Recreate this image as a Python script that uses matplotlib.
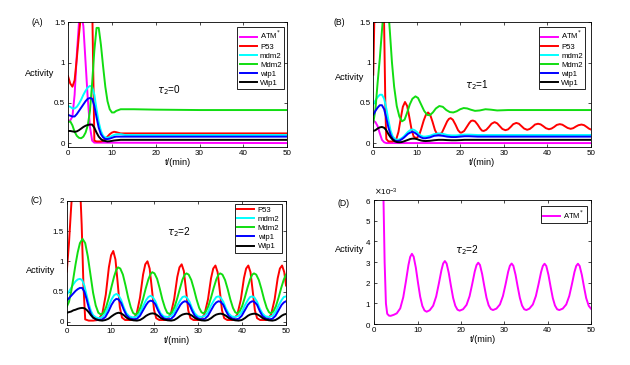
import numpy as np
import matplotlib
matplotlib.use("Agg")
import matplotlib.pyplot as plt
from matplotlib.ticker import ScalarFormatter, FormatStrFormatter

plt.rcParams['font.family'] = ['Liberation Sans', 'DejaVu Sans']

C_ATM = "#ff00ff"
C_P53 = "#ff0000"
C_MDM2 = "#00ffff"
C_MDM2P = "#11dd11"
C_WIP1 = "#0000ff"
C_WIP1P = "#000000"

# ---------------- panel A, tau2 = 0 ----------------
a_t = [0, 0.5, 1, 1.5, 2, 2.5, 3, 3.5, 4, 4.5, 5, 5.5, 6, 6.5, 7, 7.5, 8, 8.5, 9, 9.5,
       10, 10.5, 11, 12, 13, 15, 20, 30, 40, 50]
a_atm_t = [0, 0.5, 1, 1.5, 2, 2.5, 3, 3.5, 4, 4.5, 5, 5.5, 6, 50]
a_atm = [0.28, 0.28, 0.33, 0.6, 1.1, 1.5, 1.62, 1.45, 1.0, 0.55, 0.2, 0.03, 0.005, 0.0]
a_p53 = [0.83, 0.74, 0.70, 0.78, 1.05, 1.35, 1.62, 1.9, 2.1, 2.2, 2.1, 1.75, 0.03, 0.02, 0.02,
         0.02, 0.03, 0.05, 0.08, 0.11, 0.13, 0.14, 0.135, 0.12, 0.12, 0.12, 0.12, 0.12, 0.12, 0.12]
a_mdm2 = [0.46, 0.45, 0.43, 0.43, 0.45, 0.49, 0.54, 0.6, 0.65, 0.69, 0.71, 0.70, 0.6, 0.42, 0.26,
          0.15, 0.09, 0.07, 0.065, 0.075, 0.09, 0.1, 0.11, 0.11, 0.1, 0.1, 0.1, 0.1, 0.1, 0.1]
a_Mdm2 = [0.26, 0.27, 0.22, 0.14, 0.09, 0.065, 0.06, 0.08, 0.13, 0.22, 0.4, 0.75, 1.15, 1.43, 1.43,
          1.22, 0.95, 0.7, 0.52, 0.42, 0.38, 0.38, 0.4, 0.42, 0.42, 0.42, 0.415, 0.41, 0.41, 0.41]
a_wip1 = [0.35, 0.34, 0.33, 0.33, 0.36, 0.4, 0.44, 0.48, 0.52, 0.55, 0.56, 0.55, 0.46, 0.32, 0.19,
          0.11, 0.07, 0.05, 0.05, 0.055, 0.065, 0.075, 0.08, 0.08, 0.08, 0.08, 0.08, 0.08, 0.08, 0.08]
a_Wip1 = [0.15, 0.15, 0.145, 0.14, 0.145, 0.16, 0.18, 0.2, 0.215, 0.225, 0.23, 0.23, 0.19, 0.13, 0.08,
          0.05, 0.03, 0.025, 0.02, 0.022, 0.027, 0.032, 0.035, 0.04, 0.04, 0.04, 0.04, 0.04, 0.04, 0.04]

# ---------------- panel B, tau2 = 1 ----------------
b_t = [0, 0.5, 1, 1.5, 2, 2.5, 3, 3.5, 4, 4.5, 5, 5.5, 6, 6.5, 7, 7.5, 8, 8.5, 9, 9.5, 10,
       10.5, 11, 11.5, 12, 13, 14, 15, 16, 17, 18, 19, 20, 21, 22, 24, 50]
b_atm_t = [0, 0.5, 1, 1.5, 2, 2.5, 3, 50]
b_atm = [0.28, 0.26, 0.21, 0.12, 0.04, 0.01, 0.0, 0.0]
b_p53_t = [0, 0.3, 2.3, 2.5, 2.8, 3.0, 3.5, 4.5,
           5.3, 5.8, 6.3, 6.8, 7.3, 7.8, 8.3, 8.8, 9.3, 9.9,
           10.5, 11, 11.6, 12.1, 12.6, 13.1, 13.6, 14.2, 14.7, 15.2,
           15.8, 16.4, 17, 17.4, 17.8, 18.3, 18.9, 19.5, 20, 20.3,
           20.9, 21.5, 22.1, 22.5, 22.9, 23.4, 24, 24.6, 25, 25.4,
           26, 26.6, 27.2, 27.9, 28.5, 29.1, 29.7, 30.4,
           31, 31.6, 32.2, 32.9, 33.5, 34.1, 34.7, 35.4,
           36, 36.6, 37.2, 37.9, 38.5, 39.1, 39.7, 40.4,
           41, 41.6, 42.2, 42.9, 43.5, 44.1, 44.7, 45.4,
           46, 46.6, 47.2, 47.9, 48.5, 49.1, 49.6, 50]
b_p53 = [0.85, 1.7, 1.9, 1.45, 0.4, 0.05, 0.02, 0.02,
         0.05, 0.14, 0.3, 0.45, 0.51, 0.46, 0.32, 0.17, 0.08, 0.06,
         0.09, 0.17, 0.28, 0.35, 0.38, 0.35, 0.27, 0.16, 0.11, 0.1,
         0.13, 0.2, 0.27, 0.3, 0.31, 0.29, 0.23, 0.16, 0.13, 0.13,
         0.15, 0.2, 0.25, 0.275, 0.28, 0.27, 0.23, 0.18, 0.155, 0.15,
         0.165, 0.2, 0.24, 0.26, 0.245, 0.21, 0.175, 0.16,
         0.17, 0.2, 0.235, 0.25, 0.24, 0.21, 0.18, 0.165,
         0.175, 0.2, 0.23, 0.24, 0.232, 0.21, 0.185, 0.172,
         0.18, 0.2, 0.225, 0.235, 0.228, 0.208, 0.188, 0.177,
         0.185, 0.205, 0.222, 0.23, 0.222, 0.2, 0.18, 0.17]
b_Mdm2_t = [0, 0.5, 1, 1.5, 2, 2.3, 3.4, 3.8, 4.3, 4.8, 5.4, 6, 6.6, 7.2, 7.8, 8.4, 9, 9.7,
            10.3, 11, 11.7, 12.4, 13, 13.7, 14.4, 15.2, 16, 16.8, 17.6, 18.4,
            19.2, 20, 20.8, 21.6, 22.4, 23.4, 24.5, 25.8, 27, 28.5, 31, 50]
b_Mdm2 = [0.25, 0.42, 0.75, 1.05, 1.4, 1.6, 1.7, 1.4, 1.0, 0.7, 0.46, 0.33, 0.27, 0.29, 0.38, 0.48, 0.55, 0.58,
          0.56, 0.48, 0.4, 0.35, 0.345, 0.38, 0.43, 0.46, 0.45, 0.41, 0.385, 0.38,
          0.395, 0.42, 0.435, 0.43, 0.415, 0.4, 0.405, 0.42, 0.415, 0.405, 0.41, 0.41]
b_mdm2 = [0.48, 0.53, 0.57, 0.6, 0.6, 0.55, 0.43, 0.28, 0.15, 0.08, 0.05, 0.04, 0.045, 0.06, 0.08,
          0.11, 0.14, 0.16, 0.17, 0.16, 0.14, 0.11, 0.09, 0.08, 0.08, 0.09, 0.11, 0.12, 0.115, 0.1,
          0.095, 0.095, 0.1, 0.105, 0.105, 0.1, 0.1]
b_wip1 = [0.35, 0.4, 0.44, 0.47, 0.47, 0.42, 0.31, 0.19, 0.1, 0.05, 0.03, 0.025, 0.03, 0.045, 0.065,
          0.09, 0.115, 0.13, 0.14, 0.13, 0.11, 0.085, 0.07, 0.06, 0.06, 0.07, 0.09, 0.095, 0.09, 0.08,
          0.075, 0.075, 0.08, 0.085, 0.085, 0.08, 0.08]
b_Wip1 = [0.15, 0.16, 0.18, 0.195, 0.2, 0.19, 0.16, 0.11, 0.07, 0.04, 0.02, 0.012, 0.01, 0.012, 0.02,
          0.03, 0.04, 0.05, 0.055, 0.055, 0.05, 0.04, 0.032, 0.027, 0.025, 0.028, 0.035, 0.04, 0.04, 0.037,
          0.035, 0.035, 0.037, 0.04, 0.04, 0.04, 0.04]

# ---------------- panel C, tau2 = 2 ----------------
c_p53_t = [0, 0.5, 1.0, 1.2, 3.0, 3.4, 3.8, 4.2, 5, 6,
           7.1, 8.1, 8.9, 9.6, 10.1, 10.6, 11.1, 11.6, 12.1, 12.6, 13.3,
           14.9, 15.9, 16.7, 17.4, 17.9, 18.4, 18.9, 19.4, 19.9, 20.4, 21.1,
           22.7, 23.7, 24.5, 25.2, 25.7, 26.2, 26.7, 27.2, 27.7, 28.2, 28.9,
           30.4, 31.4, 32.2, 32.9, 33.4, 33.9, 34.4, 34.9, 35.4, 35.9, 36.6,
           37.9, 38.9, 39.7, 40.4, 40.9, 41.4, 41.9, 42.4, 42.9, 43.4, 44.1,
           45.6, 46.6, 47.4, 48.1, 48.6, 49.1, 49.6, 50]
c_p53 = [0.83, 1.3, 1.9, 2.1, 2.3, 1.6, 0.6, 0.04, 0.02, 0.02,
         0.03, 0.13, 0.45, 0.9, 1.1, 1.17, 1.03, 0.65, 0.24, 0.07, 0.03,
         0.03, 0.12, 0.4, 0.78, 0.95, 1.0, 0.88, 0.55, 0.2, 0.06, 0.03,
         0.03, 0.12, 0.38, 0.74, 0.9, 0.95, 0.84, 0.52, 0.19, 0.06, 0.03,
         0.03, 0.12, 0.37, 0.72, 0.88, 0.93, 0.82, 0.51, 0.19, 0.06, 0.03,
         0.03, 0.12, 0.37, 0.72, 0.88, 0.93, 0.82, 0.51, 0.19, 0.06, 0.03,
         0.03, 0.12, 0.37, 0.72, 0.88, 0.93, 0.82, 0.6]
c_Mdm2_t = [0, 0.5, 1, 1.5, 2, 2.5, 3,
            3.6, 4.2, 4.8, 5.4, 6, 6.6, 7.2, 7.8,
            8.4, 9, 9.6, 10.2, 10.8, 11.3, 11.7,
            12.2, 12.8, 13.4, 14, 14.6, 15.1, 15.6,
            16.2, 16.8, 17.4, 18, 18.6, 19.1, 19.5,
            20, 20.6, 21.2, 21.8, 22.4, 22.9, 23.4,
            24, 24.6, 25.2, 25.8, 26.4, 26.9, 27.3,
            27.8, 28.4, 29, 29.6, 30.2, 30.7, 31.1,
            31.7, 32.3, 32.9, 33.5, 34.1, 34.6, 35,
            35.5, 36.1, 36.7, 37.3, 37.9, 38.4, 38.8,
            39.4, 40, 40.6, 41.2, 41.8, 42.3, 42.7,
            43.2, 43.8, 44.4, 45, 45.6, 46.1, 46.5,
            47.1, 47.7, 48.3, 48.9, 49.5, 50]
c_Mdm2 = [0.25, 0.33, 0.5, 0.72, 0.95, 1.15, 1.3,
          1.37, 1.3, 1.08, 0.78, 0.48, 0.27, 0.15, 0.12,
          0.15, 0.25, 0.4, 0.58, 0.75, 0.86, 0.9,
          0.88, 0.78, 0.6, 0.4, 0.24, 0.15, 0.12,
          0.15, 0.24, 0.38, 0.55, 0.7, 0.79, 0.82,
          0.8, 0.71, 0.55, 0.37, 0.23, 0.15, 0.13,
          0.16, 0.25, 0.39, 0.55, 0.7, 0.78, 0.8,
          0.78, 0.69, 0.54, 0.37, 0.23, 0.16, 0.14,
          0.17, 0.26, 0.4, 0.56, 0.7, 0.78, 0.8,
          0.78, 0.69, 0.54, 0.37, 0.23, 0.16, 0.14,
          0.17, 0.26, 0.4, 0.56, 0.7, 0.78, 0.8,
          0.78, 0.69, 0.54, 0.37, 0.23, 0.16, 0.14,
          0.17, 0.26, 0.4, 0.56, 0.7, 0.78]
c_t = [0, 0.5, 1, 1.5, 2, 2.5, 3, 3.5, 4, 4.5, 5, 5.5, 6,
       6.7, 7.4, 8.1, 8.8, 9.5, 10.2, 10.8, 11.3,
       11.8, 12.4, 13, 13.6, 14.3, 15.2,
       16, 16.7, 17.4, 18.1, 18.6, 19.1,
       19.6, 20.2, 20.8, 21.4, 22.1, 23,
       23.8, 24.5, 25.2, 25.9, 26.4, 26.9,
       27.4, 28, 28.6, 29.2, 29.9, 30.7,
       31.5, 32.2, 32.9, 33.6, 34.1, 34.6,
       35.1, 35.7, 36.3, 36.9, 37.6, 38.4,
       39.2, 39.9, 40.6, 41.3, 41.8, 42.3,
       42.8, 43.4, 44, 44.6, 45.3, 46.1,
       46.9, 47.6, 48.3, 49, 49.5, 50]
c_mdm2 = [0.45, 0.5, 0.56, 0.62, 0.67, 0.7, 0.71, 0.69, 0.6, 0.45, 0.3, 0.18, 0.11,
          0.07, 0.06, 0.08, 0.14, 0.25, 0.37, 0.44, 0.46,
          0.44, 0.36, 0.24, 0.14, 0.09, 0.07,
          0.09, 0.15, 0.26, 0.36, 0.41, 0.43,
          0.41, 0.34, 0.23, 0.14, 0.09, 0.08,
          0.1, 0.16, 0.27, 0.36, 0.41, 0.42,
          0.4, 0.33, 0.22, 0.14, 0.09, 0.08,
          0.1, 0.16, 0.27, 0.36, 0.41, 0.42,
          0.4, 0.33, 0.22, 0.14, 0.09, 0.08,
          0.1, 0.16, 0.27, 0.36, 0.41, 0.42,
          0.4, 0.33, 0.22, 0.14, 0.09, 0.08,
          0.1, 0.16, 0.27, 0.36, 0.41, 0.42]
c_wip1 = [0.35, 0.39, 0.43, 0.47, 0.51, 0.54, 0.56, 0.56, 0.5, 0.38, 0.24, 0.13, 0.07,
          0.04, 0.03, 0.04, 0.08, 0.17, 0.28, 0.35, 0.38,
          0.37, 0.31, 0.2, 0.11, 0.06, 0.04,
          0.05, 0.1, 0.19, 0.28, 0.33, 0.35,
          0.34, 0.29, 0.19, 0.11, 0.06, 0.04,
          0.05, 0.1, 0.19, 0.28, 0.32, 0.34,
          0.33, 0.28, 0.18, 0.1, 0.06, 0.04,
          0.05, 0.1, 0.19, 0.28, 0.32, 0.34,
          0.33, 0.28, 0.18, 0.1, 0.06, 0.04,
          0.05, 0.1, 0.19, 0.28, 0.32, 0.34,
          0.33, 0.28, 0.18, 0.1, 0.06, 0.04,
          0.05, 0.1, 0.19, 0.28, 0.32, 0.34]
c_Wip1 = [0.15, 0.16, 0.17, 0.19, 0.2, 0.215, 0.225, 0.23, 0.225, 0.2, 0.16, 0.11, 0.07,
          0.04, 0.025, 0.02, 0.03, 0.05, 0.09, 0.12, 0.14,
          0.15, 0.14, 0.11, 0.07, 0.04, 0.025,
          0.02, 0.03, 0.06, 0.1, 0.12, 0.135,
          0.14, 0.13, 0.1, 0.065, 0.04, 0.025,
          0.02, 0.03, 0.06, 0.1, 0.12, 0.13,
          0.135, 0.125, 0.1, 0.065, 0.04, 0.025,
          0.02, 0.03, 0.06, 0.1, 0.12, 0.13,
          0.135, 0.125, 0.1, 0.065, 0.04, 0.025,
          0.02, 0.03, 0.06, 0.1, 0.12, 0.13,
          0.135, 0.125, 0.1, 0.065, 0.04, 0.025,
          0.02, 0.03, 0.06, 0.1, 0.12, 0.13]

# ---------------- panel D, ATM* for tau2 = 2 (units of 1e-3) ----------------
d_t = [0, 2.1, 2.4, 2.7, 3.0, 3.4, 3.8,
       4.5, 5.2, 6.0, 6.7, 7.3, 7.9, 8.3, 8.7,
       9.1, 9.6, 10.1, 10.6, 11.1, 11.6, 12.1,
       12.8, 13.6, 14.3, 14.9, 15.5, 15.9, 16.3,
       16.7, 17.2, 17.7, 18.2, 18.7, 19.2, 19.7,
       20.5, 21.3, 22.0, 22.6, 23.2, 23.6, 24.0,
       24.4, 24.9, 25.4, 25.9, 26.4, 26.9, 27.4,
       28.2, 29.0, 29.7, 30.3, 30.9, 31.3, 31.7,
       32.1, 32.6, 33.1, 33.6, 34.1, 34.6, 35.1,
       35.8, 36.6, 37.3, 37.9, 38.5, 38.9, 39.3,
       39.7, 40.2, 40.7, 41.2, 41.7, 42.2, 42.7,
       43.5, 44.3, 45.0, 45.6, 46.2, 46.6, 47.0,
       47.4, 47.9, 48.4, 48.9, 49.5, 50]
d_atm = [7.0, 6.5, 3.0, 1.0, 0.5, 0.41, 0.4,
         0.45, 0.52, 0.76, 1.3, 2.05, 2.86, 3.25, 3.4,
         3.26, 2.73, 2.0, 1.33, 0.88, 0.66, 0.6,
         0.67, 0.89, 1.34, 1.95, 2.6, 2.93, 3.05,
         2.93, 2.47, 1.85, 1.27, 0.89, 0.7, 0.65,
         0.72, 0.93, 1.35, 1.93, 2.55, 2.85, 2.97,
         2.86, 2.42, 1.83, 1.28, 0.91, 0.73, 0.68,
         0.75, 0.95, 1.36, 1.92, 2.53, 2.82, 2.93,
         2.82, 2.39, 1.81, 1.27, 0.9, 0.72, 0.68,
         0.75, 0.95, 1.36, 1.92, 2.52, 2.81, 2.92,
         2.81, 2.38, 1.8, 1.26, 0.9, 0.72, 0.68,
         0.75, 0.95, 1.36, 1.92, 2.52, 2.81, 2.92,
         2.81, 2.38, 1.8, 1.26, 0.88, 0.75]

LW = 1.4
FS_TICK = 5.8
FS_LABEL = 6.6
FS_LEG = 5.6


def style_axes(ax, ylim, yticks, panel, tau, tau_xy, act_xy, panel_xy):
    ax.set_xlim(0, 50)
    ax.set_ylim(*ylim)
    ax.set_xticks([0, 10, 20, 30, 40, 50])
    ax.set_yticks(yticks)
    ax.yaxis.set_major_formatter(FormatStrFormatter("%g"))
    ax.tick_params(direction="in", length=2.5, width=0.5, labelsize=FS_TICK,
                   top=True, right=True, pad=2)
    for s in ax.spines.values():
        s.set_linewidth(0.6)
    ax.set_xlabel("t/(min)", fontsize=FS_LABEL, labelpad=1)
    ax.text(act_xy[0], act_xy[1], "Activity", transform=ax.transAxes,
            fontsize=FS_LABEL, ha="center", va="center")
    ax.text(panel_xy[0], panel_xy[1], panel, transform=ax.transAxes,
            fontsize=6.2, ha="center", va="center")
    ax.text(tau_xy[0], tau_xy[1], r"$\tau_2$=" + tau, fontsize=7.2,
            ha="left", va="center")


def add_legend(ax, anchor):
    leg = ax.legend(loc="upper right", bbox_to_anchor=anchor, fontsize=FS_LEG,
                    frameon=True, fancybox=False, framealpha=1, edgecolor="black",
                    handlelength=2.2, handletextpad=0.4, labelspacing=0.22,
                    borderpad=0.3, borderaxespad=0)
    leg.get_frame().set_linewidth(0.6)


fig = plt.figure(figsize=(6.3, 3.65), dpi=100)

# (A)
ax = fig.add_axes([0.108, 0.597, 0.348, 0.342])
ax.plot(a_atm_t, a_atm, color=C_ATM, lw=LW, label=r"ATM$^{*}$")
ax.plot(a_t, a_p53, color=C_P53, lw=LW, label="P53")
ax.plot(a_t, a_mdm2, color=C_MDM2, lw=LW, label="mdm2")
ax.plot(a_t, a_Mdm2, color=C_MDM2P, lw=LW, label="Mdm2")
ax.plot(a_t, a_wip1, color=C_WIP1, lw=LW, label="wip1")
ax.plot(a_t, a_Wip1, color=C_WIP1P, lw=LW, label="Wip1")
style_axes(ax, (-0.05, 1.5), [0, 0.5, 1, 1.5], "(A)", "0", (20.3, 0.66),
           (-0.128, 0.59), (-0.139, 1.0))
add_legend(ax, (0.985, 0.965))

# (B)
ax = fig.add_axes([0.5925, 0.597, 0.345, 0.342])
ax.plot(b_atm_t, b_atm, color=C_ATM, lw=LW, label=r"ATM$^{*}$")
ax.plot(b_p53_t, b_p53, color=C_P53, lw=LW, label="P53")
ax.plot(b_t, b_mdm2, color=C_MDM2, lw=LW, label="mdm2")
ax.plot(b_Mdm2_t, b_Mdm2, color=C_MDM2P, lw=LW, label="Mdm2")
ax.plot(b_t, b_wip1, color=C_WIP1, lw=LW, label="wip1")
ax.plot(b_t, b_Wip1, color=C_WIP1P, lw=LW, label="Wip1")
style_axes(ax, (-0.05, 1.5), [0, 0.5, 1, 1.5], "(B)", "1", (21, 0.72),
           (-0.107, 0.56), (-0.155, 1.0))
add_legend(ax, (0.975, 0.965))

# (C)
ax = fig.add_axes([0.106, 0.11, 0.348, 0.34])
ax.plot(c_p53_t, c_p53, color=C_P53, lw=LW, label="P53")
ax.plot(c_t, c_mdm2, color=C_MDM2, lw=LW, label="mdm2")
ax.plot(c_Mdm2_t, c_Mdm2, color=C_MDM2P, lw=LW, label="Mdm2")
ax.plot(c_t, c_wip1, color=C_WIP1, lw=LW, label="wip1")
ax.plot(c_t, c_Wip1, color=C_WIP1P, lw=LW, label="Wip1")
style_axes(ax, (-0.05, 2), [0, 0.5, 1, 1.5, 2], "(C)", "2", (22.8, 1.48),
           (-0.119, 0.44), (-0.137, 1.0))
add_legend(ax, (0.98, 0.975))

# (D)
ax = fig.add_axes([0.594, 0.112, 0.344, 0.34])
ax.plot(d_t, np.array(d_atm) * 1e-3, color=C_ATM, lw=LW, label=r"ATM$^{*}$")
style_axes(ax, (0, 6e-3), [0, 1e-3, 2e-3, 3e-3, 4e-3, 5e-3, 6e-3], "(D)", "2",
           (18.6, 3.6e-3), (-0.115, 0.6), (-0.143, 0.968))
fmt = ScalarFormatter(useMathText=True)
fmt.set_powerlimits((-2, 2))
ax.yaxis.set_major_formatter(fmt)
ax.yaxis.get_offset_text().set_fontsize(FS_TICK)
add_legend(ax, (0.98, 0.95))

fig.savefig("out.png", dpi=100)
